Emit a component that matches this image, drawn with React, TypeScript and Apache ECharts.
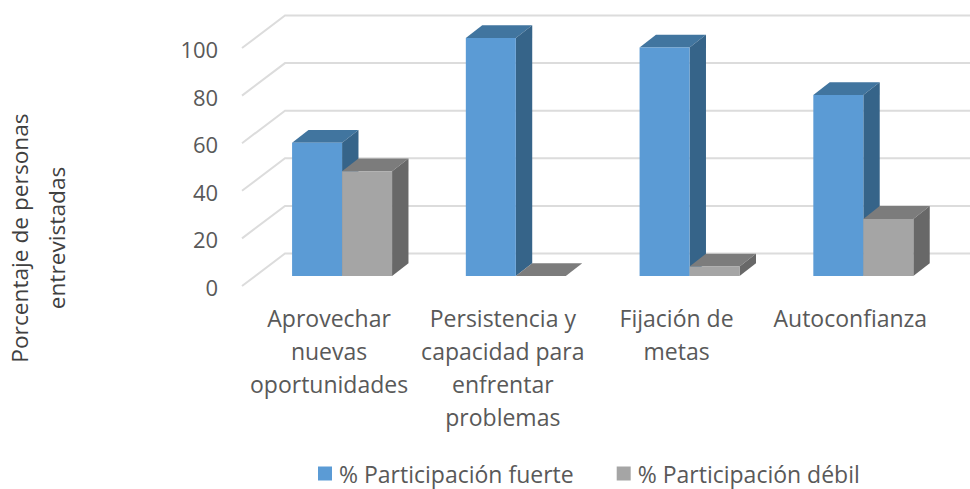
import React, { useEffect, useRef } from "react";
import * as echarts from "echarts";

const categories = [
  "Aprovechar\nnuevas\noportunidades",
  "Persistencia y\ncapacidad para\nenfrentar\nproblemas",
  "Fijación de\nmetas",
  "Autoconfianza",
];
const strongName = "% Participación fuerte";
const weakName = "% Participación débil";
const strongValues = [56, 100, 96, 76];
const weakValues = [44, 0, 4, 24];
const yTicks = [0, 20, 40, 60, 80, 100];
const axisTitle = "Porcentaje de personas\nentrevistadas";

const FONT = "'Open Sans', sans-serif";
const TEXT = "#595959";
const BAR_W = 50;
const DX = 16.4;
const DY = 12.8;

function barRenderer(offset: number, front: string, top: string, side: string) {
  return (_p: any, api: any) => {
    const idx = api.value(0);
    const v = api.value(1);
    const pt = api.coord([idx, v]);
    const base = api.coord([idx, 0]);
    const x0 = pt[0] + offset;
    const x1 = x0 + BAR_W;
    const yT = pt[1];
    const yB = base[1];
    return {
      type: "group",
      children: [
        {
          type: "polygon",
          shape: { points: [[x0, yT], [x1, yT], [x1 + DX, yT - DY], [x0 + DX, yT - DY]] },
          style: { fill: top },
        },
        {
          type: "polygon",
          shape: { points: [[x1, yT], [x1 + DX, yT - DY], [x1 + DX, yB - DY], [x1, yB]] },
          style: { fill: side },
        },
        {
          type: "rect",
          shape: { x: x0, y: yT, width: BAR_W, height: yB - yT },
          style: { fill: front },
        },
      ],
    };
  };
}

function gridRenderer(params: any, api: any) {
  const y = api.coord([0, api.value(1)])[1];
  const left = params.coordSys.x;
  return {
    type: "polyline",
    shape: {
      points: [
        [left - 13.2, y + 10],
        [left + 29.8, y - 22.5],
        [api.getWidth(), y - 22.5],
      ],
    },
    style: { stroke: "#DCDCDC", lineWidth: 2, fill: "none" },
  };
}

export default function App() {
  const ref = useRef<HTMLDivElement>(null);
  useEffect(() => {
    const chart = echarts.init(ref.current!, undefined, { renderer: "svg" });
    chart.setOption({
      animation: false,
      backgroundColor: "#fff",
      textStyle: { fontFamily: FONT },
      grid: { left: 255.2, top: 38, width: 695, height: 238, containLabel: false },
      legend: {
        data: [strongName, weakName],
        left: 318,
        top: 462,
        padding: 0,
        icon: "rect",
        itemWidth: 14,
        itemHeight: 14,
        itemGap: 43,
        textStyle: {
          color: TEXT,
          fontSize: 23,
          lineHeight: 22,
          fontFamily: FONT,
          padding: [0, 0, 0, 2],
        },
      },
      xAxis: {
        type: "category",
        data: categories,
        axisLine: { show: false },
        axisTick: { show: false },
        axisLabel: {
          interval: 0,
          margin: 25,
          color: TEXT,
          fontSize: 23,
          lineHeight: 33,
          fontFamily: FONT,
          padding: [0, 26, 0, 0],
        },
      },
      yAxis: {
        type: "value",
        min: 0,
        max: 100,
        interval: 20,
        splitLine: { show: false },
        axisLine: { show: false },
        axisTick: { show: false },
        axisLabel: {
          margin: 37,
          color: TEXT,
          fontSize: 22,
          lineHeight: 22,
          fontFamily: FONT,
          verticalAlign: "top",
        },
      },
      graphic: [
        {
          type: "text",
          x: 38,
          y: 238,
          rotation: Math.PI / 2,
          style: {
            text: axisTitle,
            fontSize: 22.7,
            lineHeight: 37,
            fontFamily: FONT,
            fill: "#404040",
            align: "center",
            verticalAlign: "middle",
          },
        },
      ],
      series: [
        {
          type: "custom",
          name: "grid",
          silent: true,
          z: 1,
          renderItem: gridRenderer,
          encode: { x: 0, y: 1 },
          data: yTicks.map((v) => [0, v]),
        },
        {
          type: "custom",
          name: strongName,
          z: 2,
          itemStyle: { color: "#5B9BD5" },
          renderItem: barRenderer(-BAR_W, "#5B9BD5", "#41759F", "#366489"),
          encode: { x: 0, y: 1 },
          data: strongValues.map((v, i) => [i, v]),
        },
        {
          type: "custom",
          name: weakName,
          z: 3,
          itemStyle: { color: "#A5A5A5" },
          renderItem: barRenderer(0, "#A5A5A5", "#7C7C7C", "#686868"),
          encode: { x: 0, y: 1 },
          data: weakValues.map((v, i) => [i, v]),
        },
      ],
    });
    return () => chart.dispose();
  }, []);
  return <div ref={ref} style={{ position: "absolute", left: 0, top: 0, width: 970, height: 489 }} />;
}
